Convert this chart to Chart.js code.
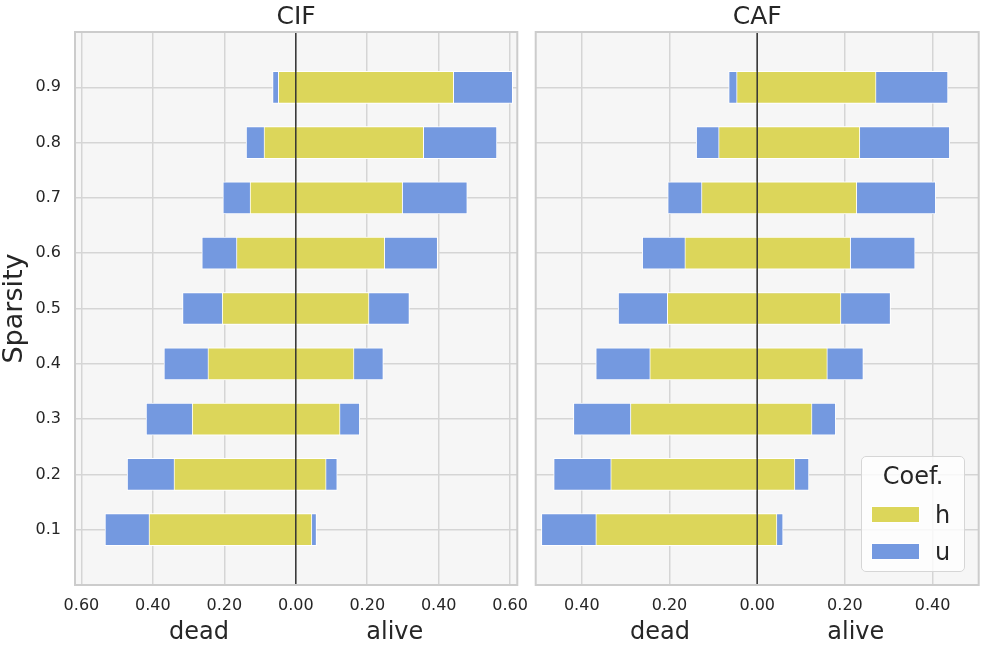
<!DOCTYPE html>
<html>
<head>
<meta charset="utf-8">
<script src="https://cdn.jsdelivr.net/npm/chart.js@4.4.1/dist/chart.umd.min.js"></script>
<style>
  body { margin: 0; background: #fff; }
  #wrap { position: relative; width: 997px; height: 648px; font-family: "DejaVu Sans", sans-serif; }
  #wrap canvas { position: absolute; left: 0; top: 0; }
  #legend {
    position: absolute; left: 861px; top: 456px; width: 104px; height: 116px;
    border: 1px solid #d6d6d6; border-radius: 5px; background: rgba(255,255,255,0.8);
    color: #262626; box-sizing: border-box;
  }
  #legend .ttl { position: absolute; left: 0; width: 100%; top: 4px; text-align: center; font-size: 24px; line-height: 30px; }
  #legend .row { position: absolute; left: 9px; height: 30px; font-size: 24px; line-height: 30px; }
  #legend .sw { position: absolute; left: 0; top: 6px; width: 49px; height: 17px; box-sizing: border-box; border: 1px solid #fff; }
  #legend .lb { position: absolute; left: 64px; top: 0; }
</style>
</head>
<body>
<div id="wrap">
  <canvas id="cif" width="997" height="648"></canvas>
  <canvas id="caf" width="997" height="648"></canvas>
  <div id="legend"></div>
</div>
<script>
// sparsity levels (y categories)
var sparsity = [0.1, 0.2, 0.3, 0.4, 0.5, 0.6, 0.7, 0.8, 0.9];
var sparsityLabels = ["0.1", "0.2", "0.3", "0.4", "0.5", "0.6", "0.7", "0.8", "0.9"];

// CIF panel: dead side negative, alive side positive
var cifHLo = [-0.411, -0.341, -0.290, -0.246, -0.206, -0.166, -0.128, -0.089, -0.049];
var cifHHi = [0.045, 0.085, 0.124, 0.163, 0.205, 0.249, 0.299, 0.358, 0.442];
var cifULo = [-0.534, -0.472, -0.419, -0.369, -0.317, -0.263, -0.204, -0.139, -0.065];
var cifUHi = [0.058, 0.116, 0.179, 0.245, 0.318, 0.397, 0.480, 0.563, 0.607];

// CAF panel
var cafHLo = [-0.368, -0.334, -0.289, -0.245, -0.205, -0.165, -0.127, -0.088, -0.047];
var cafHHi = [0.045, 0.086, 0.125, 0.160, 0.191, 0.213, 0.227, 0.234, 0.271];
var cafULo = [-0.492, -0.464, -0.419, -0.368, -0.317, -0.262, -0.204, -0.139, -0.065];
var cafUHi = [0.059, 0.118, 0.179, 0.242, 0.304, 0.360, 0.407, 0.439, 0.435];

var cifTicks = [-0.6, -0.4, -0.2, 0, 0.2, 0.4, 0.6];
var cafTicks = [-0.4, -0.2, 0, 0.2, 0.4];

var seriesNames = ["h", "u"];
var seriesColors = ["#dcd65a", "#7499e0"];
var xLabel = "dead" + " ".repeat(18) + "alive";

var textColor = "#262626";
var gridColor = "#d5d5d5";

var panelPlugin = {
    id: "panel",
    beforeDraw: function(chart) {
        var a = chart.chartArea, ctx = chart.ctx;
        ctx.save();
        ctx.fillStyle = "#f6f6f6";
        ctx.fillRect(a.left, a.top, a.right - a.left, a.bottom - a.top);
        ctx.restore();
    },
    afterDatasetsDraw: function(chart) {
        var a = chart.chartArea, ctx = chart.ctx;
        var x0 = chart.scales.x.getPixelForValue(0);
        ctx.save();
        ctx.strokeStyle = "#333333";
        ctx.lineWidth = 1.5;
        ctx.beginPath();
        ctx.moveTo(x0, a.top);
        ctx.lineTo(x0, a.bottom);
        ctx.stroke();
        ctx.restore();
    },
    afterDraw: function(chart) {
        var a = chart.chartArea, ctx = chart.ctx;
        ctx.save();
        ctx.strokeStyle = "#cccccc";
        ctx.lineWidth = 2;
        ctx.strokeRect(a.left, a.top, a.right - a.left, a.bottom - a.top);
        ctx.restore();
    }
};

function ranges(lo, hi) {
    var out = [];
    for (var i = 0; i < sparsity.length; i++) {
        out.push({ y: sparsity[i], x: [lo[i], hi[i]] });
    }
    return out;
}

function makeChart(id, title, hLo, hHi, uLo, uHi, xMin, xMax, xTicks, pad, showY) {
    var ctx = document.getElementById(id);
    return new Chart(ctx, {
        type: "bar",
        data: {
            datasets: [{
                label: seriesNames[0],
                data: ranges(hLo, hHi),
                backgroundColor: seriesColors[0],
                borderColor: "#ffffff",
                borderWidth: 1,
                borderSkipped: false,
                barThickness: 32
            }, {
                label: seriesNames[1],
                data: ranges(uLo, uHi),
                backgroundColor: seriesColors[1],
                borderColor: "#ffffff",
                borderWidth: 1,
                borderSkipped: false,
                barThickness: 32
            }]
        },
        options: {
            indexAxis: "y",
            responsive: false,
            animation: false,
            devicePixelRatio: 1,
            layout: { padding: pad },
            datasets: { bar: { grouped: false } },
            scales: {
                x: {
                    type: "linear",
                    min: xMin,
                    max: xMax,
                    afterBuildTicks: function(s) {
                        s.ticks = xTicks.map(function(v) { return { value: v }; });
                    },
                    afterFit: function(s) { s.height = 63; },
                    grid: { color: gridColor, lineWidth: 1.5, drawTicks: false },
                    border: { display: false },
                    ticks: {
                        padding: 11,
                        color: textColor,
                        font: { family: "DejaVu Sans", size: 16 },
                        callback: function(v) { return Math.abs(v).toFixed(2); }
                    },
                    title: {
                        display: true,
                        text: xLabel,
                        color: textColor,
                        font: { family: "DejaVu Sans", size: 24, lineHeight: 1.2 },
                        padding: { top: 0, bottom: 1 }
                    }
                },
                y: {
                    type: "linear",
                    min: 0,
                    max: 1,
                    offset: false,
                    afterBuildTicks: function(s) {
                        s.ticks = sparsity.map(function(v) { return { value: v }; });
                    },
                    afterFit: function(s) { s.width = showY ? 75 : 0; },
                    grid: { color: gridColor, lineWidth: 1.5, drawTicks: false, offset: false },
                    border: { display: false },
                    ticks: {
                        display: showY,
                        padding: 14,
                        color: textColor,
                        font: { family: "DejaVu Sans", size: 16 },
                        callback: function(v, i) { return sparsityLabels[i]; }
                    },
                    title: {
                        display: showY,
                        text: "Sparsity",
                        color: textColor,
                        font: { family: "DejaVu Sans", size: 27, lineHeight: 1.1 },
                        padding: { top: 0, bottom: 0 }
                    }
                }
            },
            plugins: {
                legend: { display: false },
                tooltip: { enabled: false },
                title: {
                    display: true,
                    text: title,
                    fullSize: false,
                    color: textColor,
                    font: { family: "DejaVu Sans", size: 25, weight: "normal", lineHeight: 1.2 },
                    padding: { top: 2, bottom: 0 }
                }
            }
        },
        plugins: [panelPlugin]
    });
}

makeChart("cif", "CIF", cifHLo, cifHHi, cifULo, cifUHi, -0.618, 0.62, cifTicks,
    { left: 0, right: 997 - 517.3, top: 0, bottom: 0 }, true);
makeChart("caf", "CAF", cafHLo, cafHHi, cafULo, cafUHi, -0.505, 0.505, cafTicks,
    { left: 535.7, right: 997 - 978.7, top: 0, bottom: 0 }, false);

// legend box
var lg = document.getElementById("legend");
var html = '<div class="ttl">Coef.</div>';
for (var i = 0; i < seriesNames.length; i++) {
    html += '<div class="row" style="top:' + (43 + i * 37) + 'px">' +
        '<div class="sw" style="background:' + seriesColors[i] + '"></div>' +
        '<div class="lb">' + seriesNames[i] + '</div></div>';
}
lg.innerHTML = html;
</script>
</body>
</html>
